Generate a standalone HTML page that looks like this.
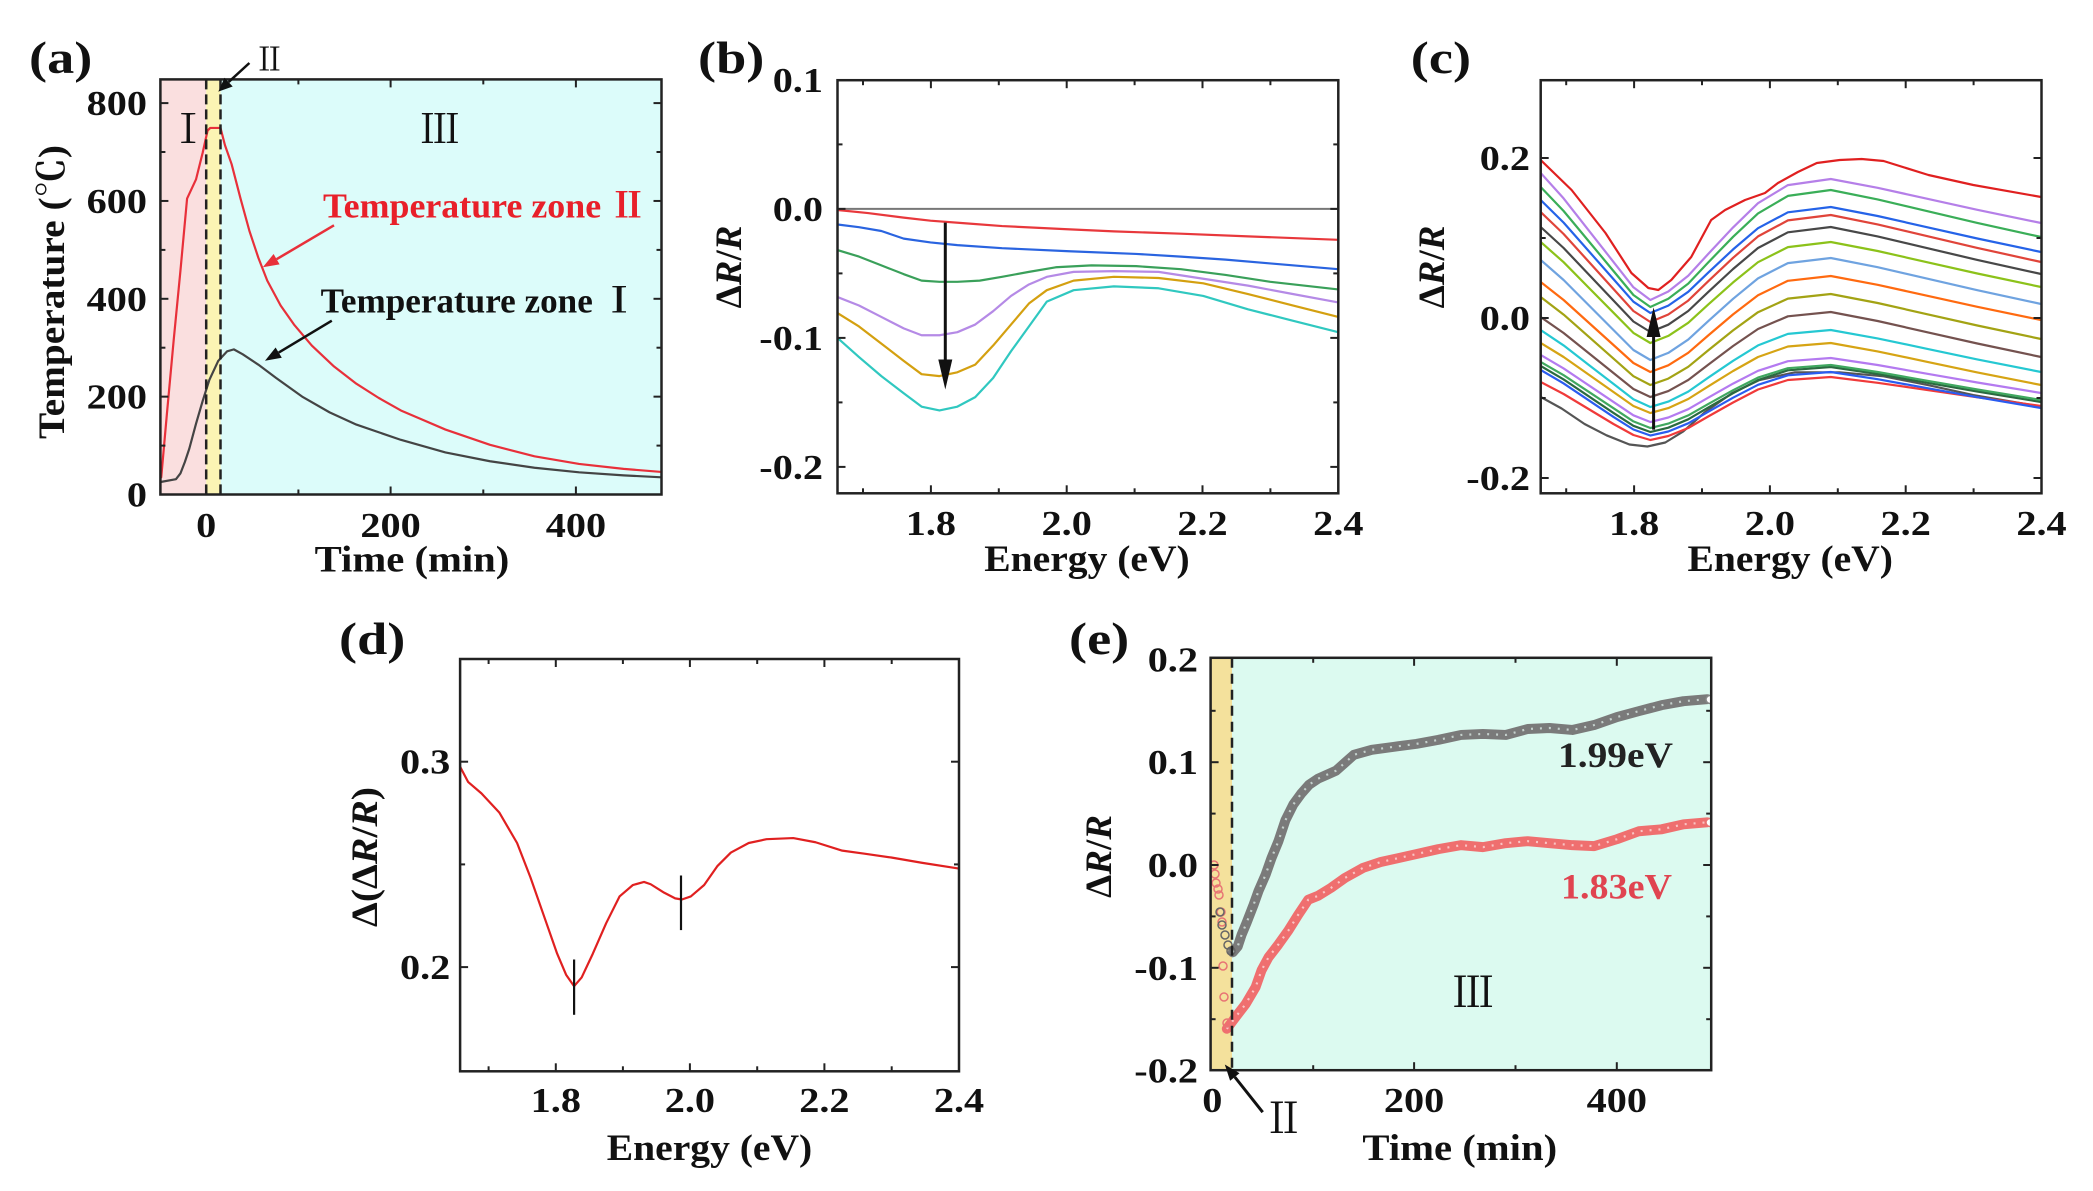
<!DOCTYPE html>
<html>
<head>
<meta charset="utf-8">
<style>
html,body{margin:0;padding:0;background:#fff;}
svg{display:block;}
.t{font-family:"Liberation Serif","Noto Serif CJK SC",serif;font-weight:bold;fill:#111;}
.tk{font-size:35px;}
.ax{font-size:37px;}
.pl{font-size:46px;}
.rn{font-family:"Liberation Serif","Noto Serif CJK SC",serif;font-weight:normal;fill:#111;}
.fr{fill:none;stroke:#222;stroke-width:2.5;}
.tick{stroke:#222;stroke-width:2;}
.c{fill:none;stroke-width:2.2;stroke-linejoin:round;stroke-linecap:round;}
</style>
</head>
<body>
<svg width="2093" height="1191" viewBox="0 0 2093 1191" xmlns="http://www.w3.org/2000/svg">
<defs>
<clipPath id="ca"><rect x="160.4" y="79.4" width="501.1" height="415.1"/></clipPath>
<clipPath id="cb"><rect x="837.5" y="80.2" width="500.8" height="413.1"/></clipPath>
<clipPath id="cc"><rect x="1540.7" y="80.2" width="500.8" height="413.1"/></clipPath>
<clipPath id="cd"><rect x="460.1" y="659" width="498.9" height="412.3"/></clipPath>
<clipPath id="ce"><rect x="1210.6" y="657.8" width="500.6" height="412.4"/></clipPath>
</defs>

<!-- ================= PANEL (a) ================= -->
<rect x="160.4" y="79.4" width="45.8" height="415.1" fill="#fadfdf"/>
<rect x="206.2" y="79.4" width="14.3" height="415.1" fill="#fbf4b4"/>
<rect x="220.5" y="79.4" width="441" height="415.1" fill="#dcfcfa"/>
<g clip-path="url(#ca)">
<g transform="scale(0.44543 0.38183)">
<path class="c" vector-effect="non-scaling-stroke" stroke="#444" d="M362,1262 L395,1255 L405,1240 L415,1210 L425,1175 L440,1110 L455,1050 L470,995 L490,945 L510,920 L525,915 L545,928 L580,955 L620,990 L680,1040 L740,1080 L800,1112 L900,1152 L1000,1185 L1100,1208 L1200,1225 L1300,1237 L1400,1245 L1485,1250"/>
<path class="c" vector-effect="non-scaling-stroke" stroke="#e8303a" d="M362,1250 L375,1080 L390,890 L405,710 L420,520 L440,470 L455,400 L466,342 L472,335 L495,335 L505,380 L520,430 L540,520 L560,605 L580,675 L600,735 L630,800 L660,850 L700,905 L750,960 L800,1005 L850,1042 L900,1075 L950,1100 L1000,1125 L1100,1165 L1200,1195 L1300,1215 L1400,1228 L1485,1236"/>
</g>
</g>
<line x1="206.2" y1="79.4" x2="206.2" y2="494.5" stroke="#222" stroke-width="2.5" stroke-dasharray="10 5"/>
<line x1="220.5" y1="79.4" x2="220.5" y2="494.5" stroke="#222" stroke-width="2.5" stroke-dasharray="10 5"/>
<rect class="fr" x="160.4" y="79.4" width="501.1" height="415.1"/>
<g class="tick">
<line x1="206.2" y1="494.5" x2="206.2" y2="486.5"/><line x1="390.6" y1="494.5" x2="390.6" y2="486.5"/><line x1="575.9" y1="494.5" x2="575.9" y2="486.5"/>
<line x1="298.4" y1="494.5" x2="298.4" y2="489.5"/><line x1="483.3" y1="494.5" x2="483.3" y2="489.5"/>
<line x1="206.2" y1="79.4" x2="206.2" y2="87.4"/><line x1="390.6" y1="79.4" x2="390.6" y2="87.4"/><line x1="575.9" y1="79.4" x2="575.9" y2="87.4"/>
<line x1="298.4" y1="79.4" x2="298.4" y2="84.4"/><line x1="483.3" y1="79.4" x2="483.3" y2="84.4"/>
<line x1="160.4" y1="396.65" x2="168.4" y2="396.65"/><line x1="160.4" y1="298.8" x2="168.4" y2="298.8"/><line x1="160.4" y1="200.95" x2="168.4" y2="200.95"/><line x1="160.4" y1="103.1" x2="168.4" y2="103.1"/>
<line x1="160.4" y1="445.6" x2="165.4" y2="445.6"/><line x1="160.4" y1="347.7" x2="165.4" y2="347.7"/><line x1="160.4" y1="249.9" x2="165.4" y2="249.9"/><line x1="160.4" y1="152" x2="165.4" y2="152"/>
<line x1="661.5" y1="396.65" x2="653.5" y2="396.65"/><line x1="661.5" y1="298.8" x2="653.5" y2="298.8"/><line x1="661.5" y1="200.95" x2="653.5" y2="200.95"/><line x1="661.5" y1="103.1" x2="653.5" y2="103.1"/>
<line x1="661.5" y1="445.6" x2="656.5" y2="445.6"/><line x1="661.5" y1="347.7" x2="656.5" y2="347.7"/><line x1="661.5" y1="249.9" x2="656.5" y2="249.9"/><line x1="661.5" y1="152" x2="656.5" y2="152"/>
</g>
<!-- arrows (a) -->
<line x1="249.4" y1="63" x2="228.6" y2="82.1" stroke="#111" stroke-width="2.5"/>
<polygon points="218.3,91.6 232.7,86.5 224.5,77.7" fill="#111"/>
<line x1="334" y1="225.3" x2="276.6" y2="259.2" stroke="#e8303a" stroke-width="2.5"/>
<polygon points="262.8,267.3 279.6,264.4 273.6,254" fill="#e8303a"/>
<line x1="331.8" y1="320.7" x2="278.7" y2="352.6" stroke="#111" stroke-width="2.5"/>
<polygon points="265,360.8 281.8,357.7 275.6,347.5" fill="#111"/>
<!-- text (a) -->
<text class="t pl" transform="translate(29,73) scale(1.18,1)">(a)</text>
<text class="rn" font-size="32" text-anchor="middle" x="269.5" y="70.6">Ⅱ</text>
<text class="rn" font-size="40" text-anchor="middle" x="188.2" y="143">Ⅰ</text>
<text class="rn" font-size="40" text-anchor="middle" x="439.9" y="143">Ⅲ</text>
<text class="t" font-size="35" x="323" y="217.6" textLength="323" lengthAdjust="spacingAndGlyphs" style="fill:#e8202a">Temperature zone Ⅱ</text>
<text class="t" font-size="35" x="320.7" y="312.3" textLength="316" lengthAdjust="spacingAndGlyphs">Temperature zone Ⅰ</text>
<g class="t tk" text-anchor="end">
<text transform="translate(147,506.5) scale(1.15,1)">0</text>
<text transform="translate(147,408.7) scale(1.15,1)">200</text>
<text transform="translate(147,310.8) scale(1.15,1)">400</text>
<text transform="translate(147,213) scale(1.15,1)">600</text>
<text transform="translate(147,115.1) scale(1.15,1)">800</text>
</g>
<g class="t tk" text-anchor="middle">
<text transform="translate(206.2,537) scale(1.15,1)">0</text>
<text transform="translate(390.6,537) scale(1.15,1)">200</text>
<text transform="translate(575.9,537) scale(1.15,1)">400</text>
</g>
<text class="t ax" text-anchor="middle" transform="translate(412,571.6) scale(1.1,1)">Time (min)</text>
<text class="t ax" text-anchor="middle" transform="translate(64,292) rotate(-90)" textLength="294" lengthAdjust="spacingAndGlyphs">Temperature (℃)</text>

<!-- ================= PANEL (b) ================= -->
<g clip-path="url(#cb)">
<line x1="837.5" y1="208.9" x2="1338.3" y2="208.9" stroke="#777" stroke-width="2"/>
<g transform="translate(689.1 0) scale(0.4471 0.38183)">
<path class="c" vector-effect="non-scaling-stroke" stroke="#e8383c" d="M332,550 L400,558 L480,570 L540,578 L620,585 L700,592 L840,600 L950,606 L1100,612 L1250,619 L1452,628"/>
<path class="c" vector-effect="non-scaling-stroke" stroke="#2a64e0" d="M332,588 L380,595 L430,605 L480,625 L540,635 L600,642 L700,650 L850,658 L1000,665 L1100,672 L1200,680 L1300,690 L1452,705"/>
<path class="c" vector-effect="non-scaling-stroke" stroke="#3aa05a" d="M332,655 L380,672 L430,695 L480,718 L520,735 L560,738 L600,738 L650,735 L700,725 L760,712 L820,700 L900,695 L1000,697 L1100,705 L1200,720 L1300,738 L1452,758"/>
<path class="c" vector-effect="non-scaling-stroke" stroke="#b58ae6" d="M332,778 L380,800 L430,830 L480,860 L520,878 L560,878 L600,870 L640,850 L680,815 L720,775 L760,745 L800,725 L860,712 L950,710 L1050,712 L1150,730 L1250,748 L1350,770 L1452,792"/>
<path class="c" vector-effect="non-scaling-stroke" stroke="#d4a010" d="M332,820 L380,855 L430,900 L480,945 L520,980 L560,985 L600,975 L640,955 L680,905 L720,850 L760,795 L800,760 L860,735 L950,725 L1050,728 L1150,742 L1250,770 L1350,800 L1452,830"/>
<path class="c" vector-effect="non-scaling-stroke" stroke="#30c8c0" d="M332,885 L380,935 L430,985 L480,1030 L520,1065 L560,1075 L600,1065 L640,1040 L680,990 L720,920 L760,855 L800,790 L860,760 L950,750 L1050,755 L1150,775 L1250,810 L1350,840 L1452,870"/>
</g>
</g>
<rect class="fr" x="837.5" y="80.2" width="500.8" height="413.1"/>
<g class="tick">
<line x1="930.9" y1="493.3" x2="930.9" y2="485.3"/><line x1="1066.7" y1="493.3" x2="1066.7" y2="485.3"/><line x1="1202.5" y1="493.3" x2="1202.5" y2="485.3"/>
<line x1="863" y1="493.3" x2="863" y2="488.3"/><line x1="998.8" y1="493.3" x2="998.8" y2="488.3"/><line x1="1134.6" y1="493.3" x2="1134.6" y2="488.3"/><line x1="1270.4" y1="493.3" x2="1270.4" y2="488.3"/>
<line x1="930.9" y1="80.2" x2="930.9" y2="88.2"/><line x1="1066.7" y1="80.2" x2="1066.7" y2="88.2"/><line x1="1202.5" y1="80.2" x2="1202.5" y2="88.2"/>
<line x1="863" y1="80.2" x2="863" y2="85.2"/><line x1="998.8" y1="80.2" x2="998.8" y2="85.2"/><line x1="1134.6" y1="80.2" x2="1134.6" y2="85.2"/><line x1="1270.4" y1="80.2" x2="1270.4" y2="85.2"/>
<line x1="837.5" y1="208.9" x2="845.5" y2="208.9"/><line x1="837.5" y1="337.9" x2="845.5" y2="337.9"/><line x1="837.5" y1="466.9" x2="845.5" y2="466.9"/>
<line x1="837.5" y1="144.4" x2="842.5" y2="144.4"/><line x1="837.5" y1="273.4" x2="842.5" y2="273.4"/><line x1="837.5" y1="402.4" x2="842.5" y2="402.4"/>
<line x1="1338.3" y1="208.9" x2="1330.3" y2="208.9"/><line x1="1338.3" y1="337.9" x2="1330.3" y2="337.9"/><line x1="1338.3" y1="466.9" x2="1330.3" y2="466.9"/>
<line x1="1338.3" y1="144.4" x2="1333.3" y2="144.4"/><line x1="1338.3" y1="273.4" x2="1333.3" y2="273.4"/><line x1="1338.3" y1="402.4" x2="1333.3" y2="402.4"/>
</g>
<line x1="945.3" y1="222.6" x2="945.3" y2="362" stroke="#111" stroke-width="3"/>
<polygon points="945.3,389.5 938.3,359.5 952.3,359.5" fill="#111"/>
<text class="t pl" transform="translate(698,73) scale(1.18,1)">(b)</text>
<g class="t tk" text-anchor="end">
<text transform="translate(823,91.9) scale(1.15,1)">0.1</text>
<text transform="translate(823,220.9) scale(1.15,1)">0.0</text>
<text transform="translate(823,349.9) scale(1.15,1)">-0.1</text>
<text transform="translate(823,478.9) scale(1.15,1)">-0.2</text>
</g>
<g class="t tk" text-anchor="middle">
<text transform="translate(930.9,535) scale(1.15,1)">1.8</text>
<text transform="translate(1066.7,535) scale(1.15,1)">2.0</text>
<text transform="translate(1202.5,535) scale(1.15,1)">2.2</text>
<text transform="translate(1338.3,535) scale(1.15,1)">2.4</text>
</g>
<text class="t ax" text-anchor="middle" transform="translate(1087,570.8) scale(1.07,1)">Energy (eV)</text>
<text class="t ax" text-anchor="middle" transform="translate(741,267) rotate(-90)">Δ<tspan font-style="italic">R</tspan>/<tspan font-style="italic">R</tspan></text>

<!-- ================= PANEL (c) ================= -->
<g clip-path="url(#cc)">
<g transform="translate(1540.7 0) scale(0.99682 1) translate(-1542 0)">
<polyline class="c" stroke="#555555" points="1542,397 1563,408.5 1586,424 1608,435.3 1631,444.5 1649,446.5 1667,442.5 1685,431.4 1707,412 1734,393.1 1761,380.2 1797,372.3 1842,372.3 1886,376.3 1931,385.2 1976,395.1 2044,406.6"/>
<polyline class="c" stroke="#f03a3a" points="1542,382 1565,394 1590,409 1615,424 1635,435 1652,440 1670,436 1690,428 1710,416.5 1735,402.5 1760,389.5 1790,380 1833,377 1880,382.8 1930,390 1980,397.3 2044,406"/>
<polyline class="c" stroke="#2a5cf0" points="1542,370 1565,383.4 1590,400.2 1615,416.9 1635,429.5 1652,435.5 1670,431.5 1690,423.3 1710,411.8 1735,397.7 1760,384.8 1790,375.3 1833,372 1880,379.2 1930,388.2 1980,397.2 2044,408"/>
<polyline class="c" stroke="#2a6a40" points="1542,366 1565,379.4 1590,396.2 1615,412.9 1635,425.8 1652,432 1670,427.7 1690,419.3 1710,407.6 1735,393.2 1760,380.1 1790,370.3 1833,367 1880,374 1930,382.8 1980,391.5 2044,402"/>
<polyline class="c" stroke="#40a860" points="1542,362 1565,375.2 1590,391.7 1615,408.2 1635,421.4 1652,428 1670,423.6 1690,415.4 1710,404.1 1735,390.2 1760,377.6 1790,368.2 1833,365 1880,372 1930,380.8 1980,389.5 2044,400"/>
<polyline class="c" stroke="#b47af0" points="1542,355 1565,368.4 1590,385.2 1615,401.9 1635,415.3 1652,422 1670,417.5 1690,409.2 1710,397.7 1735,383.6 1760,370.8 1790,361.2 1833,358 1880,365 1930,373.8 1980,382.5 2044,393"/>
<polyline class="c" stroke="#d6a414" points="1542,343 1565,357 1590,374.5 1615,392 1635,406 1652,413 1670,408.1 1690,399 1710,386.4 1735,371 1760,357 1790,346.5 1833,343 1880,351.4 1930,361.9 1980,372.4 2044,385"/>
<polyline class="c" stroke="#25c8d2" points="1542,330 1565,345.4 1590,364.7 1615,383.9 1635,399.3 1652,407 1670,401.6 1690,391.6 1710,377.7 1735,360.8 1760,345.4 1790,333.9 1833,330 1880,338.4 1930,348.9 1980,359.4 2044,372"/>
<polyline class="c" stroke="#74524f" points="1542,317 1565,333 1590,353 1615,373 1635,389 1652,397 1670,391.1 1690,380 1710,364.7 1735,346 1760,329 1790,316.3 1833,312 1880,321 1930,332.3 1980,343.5 2044,357"/>
<polyline class="c" stroke="#a3a314" points="1542,297 1565,314.6 1590,336.6 1615,358.6 1635,376.2 1652,385 1670,378.6 1690,366.8 1710,350.4 1735,330.4 1760,312.2 1790,298.6 1833,294 1880,303 1930,314.3 1980,325.5 2044,339"/>
<polyline class="c" stroke="#ff6a10" points="1542,282 1565,300 1590,322.5 1615,345 1635,363 1652,372 1670,365.3 1690,352.8 1710,335.5 1735,314.4 1760,295.2 1790,280.8 1833,276 1880,284.8 1930,295.8 1980,306.8 2044,320"/>
<polyline class="c" stroke="#6fa3e0" points="1542,260 1565,280 1590,305 1615,330 1635,350 1652,360 1670,352.9 1690,339.6 1710,321.2 1735,298.8 1760,278.4 1790,263.1 1833,258 1880,267.2 1930,278.7 1980,290.2 2044,304"/>
<polyline class="c" stroke="#8cc21a" points="1542,242 1565,262.2 1590,287.5 1615,312.7 1635,332.9 1652,343 1670,335.9 1690,322.8 1710,304.6 1735,282.4 1760,262.2 1790,247.1 1833,242 1880,251 1930,262.3 1980,273.5 2044,287"/>
<polyline class="c" stroke="#484848" points="1542,227 1565,248 1590,274.3 1615,300.5 1635,321.5 1652,332 1670,324.7 1690,311 1710,292.1 1735,269 1760,248 1790,232.3 1833,227 1880,236.4 1930,248.2 1980,259.9 2044,274"/>
<polyline class="c" stroke="#e0443a" points="1542,212 1565,234 1590,261.5 1615,289 1635,311 1652,322 1670,314.5 1690,300.6 1710,281.3 1735,257.8 1760,236.4 1790,220.4 1833,215 1880,224.4 1930,236.2 1980,247.9 2044,262"/>
<polyline class="c" stroke="#2563e8" points="1542,200 1565,222.6 1590,250.9 1615,279.1 1635,301.7 1652,313 1670,305.6 1690,291.8 1710,272.7 1735,249.4 1760,228.2 1790,212.3 1833,207 1880,216 1930,227.3 1980,238.5 2044,252"/>
<polyline class="c" stroke="#3aae58" points="1542,187 1565,211 1590,241 1615,271 1635,295 1652,307 1670,298.8 1690,283.6 1710,262.5 1735,236.8 1760,213.4 1790,195.9 1833,190 1880,199.4 1930,211.2 1980,222.9 2044,237"/>
<polyline class="c" stroke="#b57fe8" points="1542,173 1565,198.4 1590,230.2 1615,261.9 1635,287.3 1652,300 1670,291.5 1690,275.8 1710,254 1735,227.4 1760,203.2 1790,185.1 1833,179 1880,187.8 1930,198.8 1980,209.8 2044,223"/>
<polyline class="c" stroke="#e02020" points="1542,160 1573,190 1607,233 1633,273 1650,288 1660,290 1673,280 1693,257 1713,220 1727,210 1747,200 1767,193 1780,183 1800,172 1819,163 1842,160 1864,159 1886,161 1931,175 1976,185 2044,197"/>
</g>
</g>
<rect class="fr" x="1540.7" y="80.2" width="500.8" height="413.1"/>
<g class="tick">
<line x1="1634.1" y1="493.3" x2="1634.1" y2="485.3"/><line x1="1769.9" y1="493.3" x2="1769.9" y2="485.3"/><line x1="1905.7" y1="493.3" x2="1905.7" y2="485.3"/>
<line x1="1566.2" y1="493.3" x2="1566.2" y2="488.3"/><line x1="1702" y1="493.3" x2="1702" y2="488.3"/><line x1="1837.8" y1="493.3" x2="1837.8" y2="488.3"/><line x1="1973.6" y1="493.3" x2="1973.6" y2="488.3"/>
<line x1="1634.1" y1="80.2" x2="1634.1" y2="88.2"/><line x1="1769.9" y1="80.2" x2="1769.9" y2="88.2"/><line x1="1905.7" y1="80.2" x2="1905.7" y2="88.2"/>
<line x1="1566.2" y1="80.2" x2="1566.2" y2="85.2"/><line x1="1702" y1="80.2" x2="1702" y2="85.2"/><line x1="1837.8" y1="80.2" x2="1837.8" y2="85.2"/><line x1="1973.6" y1="80.2" x2="1973.6" y2="85.2"/>
<line x1="1540.7" y1="158" x2="1548.7" y2="158"/><line x1="1540.7" y1="318" x2="1548.7" y2="318"/><line x1="1540.7" y1="478" x2="1548.7" y2="478"/>
<line x1="1540.7" y1="238" x2="1545.7" y2="238"/><line x1="1540.7" y1="398" x2="1545.7" y2="398"/>
<line x1="2041.5" y1="158" x2="2033.5" y2="158"/><line x1="2041.5" y1="318" x2="2033.5" y2="318"/><line x1="2041.5" y1="478" x2="2033.5" y2="478"/>
<line x1="2041.5" y1="238" x2="2036.5" y2="238"/><line x1="2041.5" y1="398" x2="2036.5" y2="398"/>
</g>
<line x1="1653.6" y1="429.6" x2="1653.6" y2="334" stroke="#111" stroke-width="3"/>
<polygon points="1653.6,307.4 1646.6,337 1660.6,337" fill="#111"/>
<text class="t pl" transform="translate(1410.8,73) scale(1.18,1)">(c)</text>
<g class="t tk" text-anchor="end">
<text transform="translate(1530,170) scale(1.15,1)">0.2</text>
<text transform="translate(1530,330) scale(1.15,1)">0.0</text>
<text transform="translate(1530,490) scale(1.15,1)">-0.2</text>
</g>
<g class="t tk" text-anchor="middle">
<text transform="translate(1634.1,535) scale(1.15,1)">1.8</text>
<text transform="translate(1769.9,535) scale(1.15,1)">2.0</text>
<text transform="translate(1905.7,535) scale(1.15,1)">2.2</text>
<text transform="translate(2041.5,535) scale(1.15,1)">2.4</text>
</g>
<text class="t ax" text-anchor="middle" transform="translate(1790.2,570.8) scale(1.07,1)">Energy (eV)</text>
<text class="t ax" text-anchor="middle" transform="translate(1444,267) rotate(-90)">Δ<tspan font-style="italic">R</tspan>/<tspan font-style="italic">R</tspan></text>

<!-- ================= PANEL (d) ================= -->
<g clip-path="url(#cd)">
<g transform="translate(330 591) scale(0.44543 0.38183)">
<path class="c" vector-effect="non-scaling-stroke" stroke="#e02020" stroke-width="2.6" d="M292,460 L310,500 L340,530 L380,580 L420,660 L450,750 L480,850 L510,950 L530,1005 L548,1035 L565,1012 L590,950 L620,870 L650,800 L680,770 L705,762 L720,768 L750,790 L775,805 L790,808 L810,800 L840,770 L870,720 L900,685 L940,660 L980,650 L1040,647 L1090,658 L1150,680 L1200,688 L1260,698 L1330,712 L1412,727"/>
</g>
</g>
<line x1="574.1" y1="959.5" x2="574.1" y2="1014.8" stroke="#111" stroke-width="2.2"/>
<line x1="681" y1="875.5" x2="681" y2="930.1" stroke="#111" stroke-width="2.2"/>
<rect class="fr" x="460.1" y="659" width="498.9" height="412.3"/>
<g class="tick">
<line x1="555.8" y1="1071.3" x2="555.8" y2="1063.3"/><line x1="689.9" y1="1071.3" x2="689.9" y2="1063.3"/><line x1="824.4" y1="1071.3" x2="824.4" y2="1063.3"/>
<line x1="488.6" y1="1071.3" x2="488.6" y2="1066.3"/><line x1="622.9" y1="1071.3" x2="622.9" y2="1066.3"/><line x1="757.2" y1="1071.3" x2="757.2" y2="1066.3"/><line x1="891.7" y1="1071.3" x2="891.7" y2="1066.3"/>
<line x1="555.8" y1="659" x2="555.8" y2="667"/><line x1="689.9" y1="659" x2="689.9" y2="667"/><line x1="824.4" y1="659" x2="824.4" y2="667"/>
<line x1="488.6" y1="659" x2="488.6" y2="664"/><line x1="622.9" y1="659" x2="622.9" y2="664"/><line x1="757.2" y1="659" x2="757.2" y2="664"/><line x1="891.7" y1="659" x2="891.7" y2="664"/>
<line x1="460.1" y1="761.7" x2="468.1" y2="761.7"/><line x1="460.1" y1="967.1" x2="468.1" y2="967.1"/><line x1="460.1" y1="864.4" x2="465.1" y2="864.4"/>
<line x1="959" y1="761.7" x2="951" y2="761.7"/><line x1="959" y1="967.1" x2="951" y2="967.1"/><line x1="959" y1="864.4" x2="954" y2="864.4"/>
</g>
<text class="t pl" transform="translate(339,654) scale(1.18,1)">(d)</text>
<g class="t tk" text-anchor="end">
<text transform="translate(450.3,773.7) scale(1.15,1)">0.3</text>
<text transform="translate(450.3,979.1) scale(1.15,1)">0.2</text>
</g>
<g class="t tk" text-anchor="middle">
<text transform="translate(555.8,1112) scale(1.15,1)">1.8</text>
<text transform="translate(689.9,1112) scale(1.15,1)">2.0</text>
<text transform="translate(824.4,1112) scale(1.15,1)">2.2</text>
<text transform="translate(959,1112) scale(1.15,1)">2.4</text>
</g>
<text class="t ax" text-anchor="middle" transform="translate(709.5,1160) scale(1.07,1)">Energy (eV)</text>
<text class="t ax" text-anchor="middle" transform="translate(377,857) rotate(-90)" textLength="140" lengthAdjust="spacingAndGlyphs">Δ(Δ<tspan font-style="italic">R</tspan>/<tspan font-style="italic">R</tspan>)</text>

<!-- ================= PANEL (e) ================= -->
<rect x="1210.6" y="657.8" width="21.4" height="412.4" fill="#f4e19c"/>
<rect x="1232" y="657.8" width="479.2" height="412.4" fill="#dcfaf0"/>
<g clip-path="url(#ce)">
<g transform="translate(1060 591) scale(0.99287 0.99275) translate(-1060 -591)">
<path fill="none" stroke="#7a7a7a" stroke-width="10" stroke-linejoin="round" stroke-linecap="round" d="M1234,955 L1239,949 L1243,937 L1248,925 L1255,907 L1260,893 L1267,877 L1273,860 L1280,843 L1287,822 L1295,806 L1303,795 L1311,786 L1320,780 L1329,776 L1338,772 L1347,764 L1356,756 L1374,751 L1396,748 L1419,745 L1441,741 L1464,736 L1486,735 L1509,736 L1531,730 L1553,729 L1576,731 L1598,726 L1621,718 L1643,712 L1666,706 L1688,702 L1712,700"/>
<path fill="none" stroke="#c4d0cc" stroke-width="2.2" stroke-dasharray="2 7" stroke-linejoin="round" d="M1234,955 L1239,949 L1243,937 L1248,925 L1255,907 L1260,893 L1267,877 L1273,860 L1280,843 L1287,822 L1295,806 L1303,795 L1311,786 L1320,780 L1329,776 L1338,772 L1347,764 L1356,756 L1374,751 L1396,748 L1419,745 L1441,741 L1464,736 L1486,735 L1509,736 L1531,730 L1553,729 L1576,731 L1598,726 L1621,718 L1643,712 L1666,706 L1688,702 L1712,700"/>
<path fill="none" stroke="#ef6f6f" stroke-width="10" stroke-linejoin="round" stroke-linecap="round" d="M1228,1032 L1237,1020 L1247,1007 L1257,990 L1263,973 L1270,960 L1280,947 L1290,933 L1300,917 L1310,902 L1320,898 L1333,890 L1347,880 L1365,870 L1383,864 L1401,860 L1419,856 L1441,851 L1464,847 L1486,849 L1509,845 L1531,843 L1553,845 L1576,847 L1598,848 L1621,841 L1643,833 L1666,831 L1688,826 L1712,824"/>
<path fill="none" stroke="#fac4c4" stroke-width="2.2" stroke-dasharray="2 7" stroke-linejoin="round" d="M1228,1032 L1237,1020 L1247,1007 L1257,990 L1263,973 L1270,960 L1280,947 L1290,933 L1300,917 L1310,902 L1320,898 L1333,890 L1347,880 L1365,870 L1383,864 L1401,860 L1419,856 L1441,851 L1464,847 L1486,849 L1509,845 L1531,843 L1553,845 L1576,847 L1598,848 L1621,841 L1643,833 L1666,831 L1688,826 L1712,824"/>
</g>
<g fill="none" stroke="#e87474" stroke-width="1.5">
<circle cx="1214" cy="865" r="4"/><circle cx="1215" cy="874" r="4"/><circle cx="1216" cy="883" r="4"/><circle cx="1218" cy="889" r="4"/><circle cx="1219" cy="895" r="4"/><circle cx="1221" cy="912" r="4"/><circle cx="1222" cy="922" r="4"/><circle cx="1223" cy="966" r="4"/><circle cx="1224" cy="997" r="4"/><circle cx="1227" cy="1023" r="4"/>
</g>
<g fill="none" stroke="#666" stroke-width="1.5">
<circle cx="1220" cy="912" r="4"/><circle cx="1222" cy="925" r="4"/><circle cx="1225" cy="935" r="4"/><circle cx="1228" cy="945" r="4"/><circle cx="1231" cy="951" r="4"/>
</g>
<circle cx="1710" cy="699.5" r="4" fill="#fff" stroke="#888" stroke-width="1.5"/>
<circle cx="1710" cy="822.5" r="4" fill="#fff" stroke="#e87474" stroke-width="1.5"/>
</g>
<line x1="1232" y1="657.8" x2="1232" y2="1070.2" stroke="#222" stroke-width="2.5" stroke-dasharray="10 6"/>
<rect class="fr" x="1210.6" y="657.8" width="500.6" height="412.4"/>
<g class="tick">
<line x1="1414.1" y1="1070.2" x2="1414.1" y2="1062.2"/><line x1="1616.8" y1="1070.2" x2="1616.8" y2="1062.2"/>
<line x1="1313.2" y1="1070.2" x2="1313.2" y2="1065.2"/><line x1="1515.5" y1="1070.2" x2="1515.5" y2="1065.2"/>
<line x1="1414.1" y1="657.8" x2="1414.1" y2="665.8"/><line x1="1616.8" y1="657.8" x2="1616.8" y2="665.8"/>
<line x1="1313.2" y1="657.8" x2="1313.2" y2="662.8"/><line x1="1515.5" y1="657.8" x2="1515.5" y2="662.8"/>
<line x1="1210.6" y1="762.2" x2="1218.6" y2="762.2"/><line x1="1210.6" y1="865" x2="1218.6" y2="865"/><line x1="1210.6" y1="967.8" x2="1218.6" y2="967.8"/>
<line x1="1210.6" y1="710.8" x2="1215.6" y2="710.8"/><line x1="1210.6" y1="813.6" x2="1215.6" y2="813.6"/><line x1="1210.6" y1="916.4" x2="1215.6" y2="916.4"/><line x1="1210.6" y1="1019.2" x2="1215.6" y2="1019.2"/>
<line x1="1711.2" y1="762.2" x2="1703.2" y2="762.2"/><line x1="1711.2" y1="865" x2="1703.2" y2="865"/><line x1="1711.2" y1="967.8" x2="1703.2" y2="967.8"/>
<line x1="1711.2" y1="710.8" x2="1706.2" y2="710.8"/><line x1="1711.2" y1="813.6" x2="1706.2" y2="813.6"/><line x1="1711.2" y1="916.4" x2="1706.2" y2="916.4"/><line x1="1711.2" y1="1019.2" x2="1706.2" y2="1019.2"/>
</g>
<line x1="1262.7" y1="1112.2" x2="1234.8" y2="1077" stroke="#111" stroke-width="3"/>
<polygon points="1224.8,1064.5 1239.5,1073.3 1230.1,1080.7" fill="#111"/>
<text class="t pl" transform="translate(1069,654) scale(1.18,1)">(e)</text>
<text class="t" font-size="36" x="1558" y="767" textLength="115" lengthAdjust="spacingAndGlyphs" style="fill:#222">1.99eV</text>
<text class="t" font-size="36" x="1561" y="898.4" textLength="111" lengthAdjust="spacingAndGlyphs" style="fill:#e04450">1.83eV</text>
<text class="rn" font-size="42" text-anchor="middle" x="1473.1" y="1007.2">Ⅲ</text>
<text class="rn" font-size="42" text-anchor="middle" x="1283.8" y="1133.2">Ⅱ</text>
<g class="t tk" text-anchor="end">
<text transform="translate(1198,671.4) scale(1.15,1)">0.2</text>
<text transform="translate(1198,774.2) scale(1.15,1)">0.1</text>
<text transform="translate(1198,877) scale(1.15,1)">0.0</text>
<text transform="translate(1198,979.8) scale(1.15,1)">-0.1</text>
<text transform="translate(1198,1082.6) scale(1.15,1)">-0.2</text>
</g>
<g class="t tk" text-anchor="middle">
<text transform="translate(1212.3,1112) scale(1.15,1)">0</text>
<text transform="translate(1414.1,1112) scale(1.15,1)">200</text>
<text transform="translate(1616.8,1112) scale(1.15,1)">400</text>
</g>
<text class="t ax" text-anchor="middle" transform="translate(1459.8,1160) scale(1.1,1)">Time (min)</text>
<text class="t ax" text-anchor="middle" transform="translate(1111,856.4) rotate(-90)">Δ<tspan font-style="italic">R</tspan>/<tspan font-style="italic">R</tspan></text>
</svg>
</body>
</html>
